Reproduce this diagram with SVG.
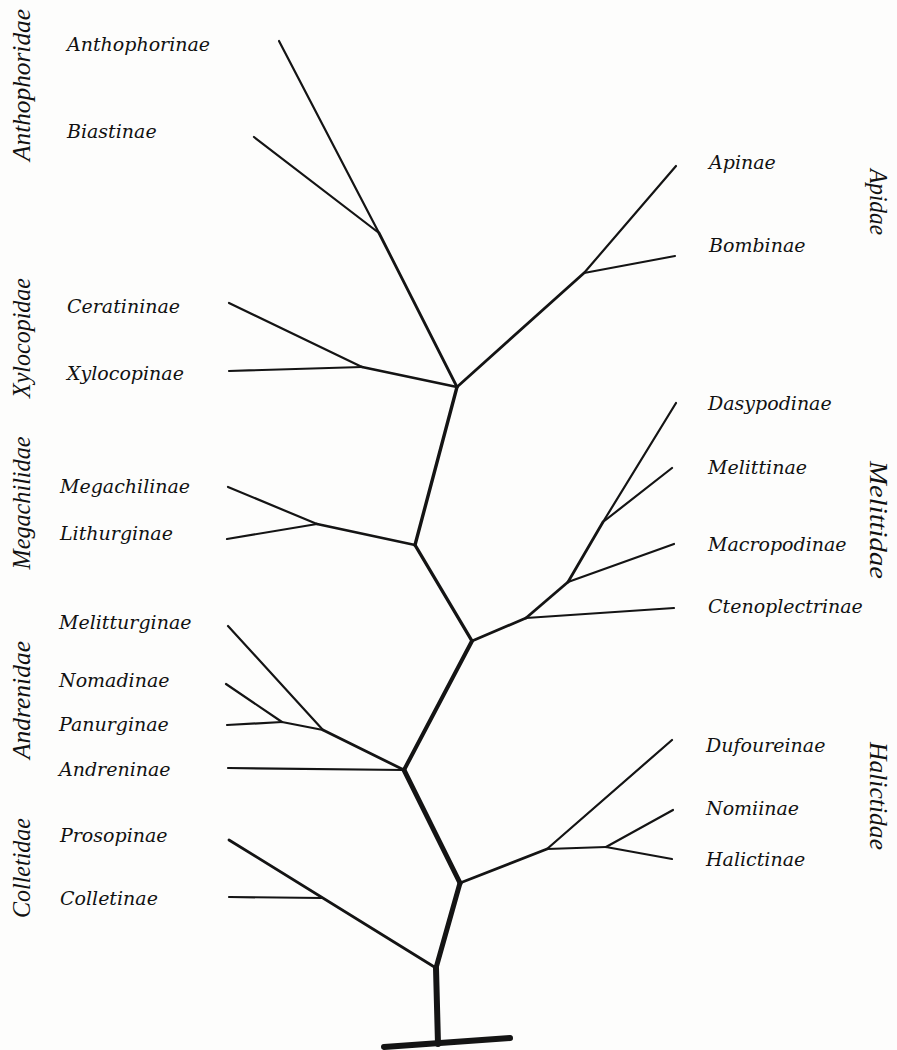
<svg xmlns="http://www.w3.org/2000/svg" width="897" height="1050" viewBox="0 0 897 1050">
<style>
.bg{fill:#fdfdfc}
.lbl{font-family:"DejaVu Serif","Liberation Serif",serif;font-style:italic;font-size:19px;fill:#111}
.fam{font-family:"Liberation Serif","DejaVu Serif",serif;font-style:italic;font-size:26px;fill:#111}
.e{stroke:#141414;stroke-linecap:round;fill:none}
.w2{stroke-width:2.2}
.w25{stroke-width:2.8}
.w3{stroke-width:3.4}
.w4{stroke-width:4}
.w5{stroke-width:5}
.w6{stroke-width:6}
</style>
<rect class="bg" x="0" y="0" width="897" height="1050"/>
<g id="connectors">
<line class="e w2" x1="279" y1="41" x2="379" y2="233"/>
<line class="e w2" x1="254" y1="137" x2="379" y2="233"/>
<line class="e w25" x1="379" y1="233" x2="457" y2="387"/>
<line class="e w2" x1="229" y1="303" x2="362" y2="367"/>
<line class="e w2" x1="229" y1="371" x2="362" y2="367"/>
<line class="e w25" x1="362" y1="367" x2="457" y2="387"/>
<line class="e w25" x1="457" y1="387" x2="584" y2="273"/>
<line class="e w2" x1="584" y1="273" x2="676" y2="166"/>
<line class="e w2" x1="584" y1="273" x2="675" y2="256"/>
<line class="e w3" x1="457" y1="387" x2="415" y2="545"/>
<line class="e w25" x1="415" y1="545" x2="317" y2="524"/>
<line class="e w2" x1="317" y1="524" x2="228" y2="487"/>
<line class="e w2" x1="317" y1="524" x2="227" y2="539"/>
<line class="e w3" x1="415" y1="545" x2="472" y2="641"/>
<line class="e w25" x1="472" y1="641" x2="526" y2="618"/>
<line class="e w2" x1="526" y1="618" x2="674" y2="608"/>
<line class="e w25" x1="526" y1="618" x2="568" y2="582"/>
<line class="e w2" x1="568" y1="582" x2="674" y2="544"/>
<line class="e w25" x1="568" y1="582" x2="603" y2="522"/>
<line class="e w2" x1="603" y1="522" x2="676" y2="403"/>
<line class="e w2" x1="603" y1="522" x2="672" y2="468"/>
<line class="e w4" x1="472" y1="641" x2="404" y2="770"/>
<line class="e w2" x1="404" y1="770" x2="228" y2="768"/>
<line class="e w25" x1="404" y1="770" x2="323" y2="730"/>
<line class="e w2" x1="323" y1="730" x2="228" y2="626"/>
<line class="e w2" x1="323" y1="730" x2="282" y2="722"/>
<line class="e w2" x1="282" y1="722" x2="226" y2="684"/>
<line class="e w2" x1="282" y1="722" x2="227" y2="725"/>
<line class="e w5" x1="404" y1="770" x2="460" y2="883"/>
<line class="e w25" x1="460" y1="883" x2="547" y2="849"/>
<line class="e w2" x1="547" y1="849" x2="672" y2="740"/>
<line class="e w2" x1="547" y1="849" x2="606" y2="847"/>
<line class="e w2" x1="606" y1="847" x2="673" y2="810"/>
<line class="e w2" x1="606" y1="847" x2="672" y2="859"/>
<line class="e w5" x1="460" y1="883" x2="436" y2="968"/>
<line class="e w25" x1="436" y1="968" x2="229" y2="840"/>
<line class="e w2" x1="322" y1="898" x2="229" y2="897"/>
<line class="e w6" x1="436" y1="968" x2="438" y2="1044"/>
<line class="e w6" x1="384" y1="1047" x2="510" y2="1038"/>
</g>
<g id="n-anthophorinae"><text class="lbl" x="67" y="51">Anthophorinae</text></g>
<g id="n-biastinae"><text class="lbl" x="67" y="138">Biastinae</text></g>
<g id="n-ceratininae"><text class="lbl" x="67" y="313">Ceratininae</text></g>
<g id="n-xylocopinae"><text class="lbl" x="67" y="380">Xylocopinae</text></g>
<g id="n-megachilinae"><text class="lbl" x="60" y="493">Megachilinae</text></g>
<g id="n-lithurginae"><text class="lbl" x="60" y="540">Lithurginae</text></g>
<g id="n-melitturginae"><text class="lbl" x="59" y="629">Melitturginae</text></g>
<g id="n-nomadinae"><text class="lbl" x="59" y="687">Nomadinae</text></g>
<g id="n-panurginae"><text class="lbl" x="59" y="731">Panurginae</text></g>
<g id="n-andreninae"><text class="lbl" x="59" y="776">Andreninae</text></g>
<g id="n-prosopinae"><text class="lbl" x="60" y="842">Prosopinae</text></g>
<g id="n-colletinae"><text class="lbl" x="60" y="905">Colletinae</text></g>
<g id="n-apinae"><text class="lbl" x="709" y="169">Apinae</text></g>
<g id="n-bombinae"><text class="lbl" x="709" y="252">Bombinae</text></g>
<g id="n-dasypodinae"><text class="lbl" x="708" y="410">Dasypodinae</text></g>
<g id="n-melittinae"><text class="lbl" x="708" y="474">Melittinae</text></g>
<g id="n-macropodinae"><text class="lbl" x="708" y="551">Macropodinae</text></g>
<g id="n-ctenoplectrinae"><text class="lbl" x="708" y="613">Ctenoplectrinae</text></g>
<g id="n-dufoureinae"><text class="lbl" x="706" y="752">Dufoureinae</text></g>
<g id="n-nomiinae"><text class="lbl" x="706" y="815">Nomiinae</text></g>
<g id="n-halictinae"><text class="lbl" x="706" y="866">Halictinae</text></g>
<g id="f-anthophoridae"><text class="fam" text-anchor="middle" transform="translate(30,85) rotate(-90)" textLength="152" lengthAdjust="spacingAndGlyphs">Anthophoridae</text></g>
<g id="f-xylocopidae"><text class="fam" text-anchor="middle" transform="translate(30,338) rotate(-90)" textLength="120" lengthAdjust="spacingAndGlyphs">Xylocopidae</text></g>
<g id="f-megachilidae"><text class="fam" text-anchor="middle" transform="translate(30,503) rotate(-90)" textLength="133" lengthAdjust="spacingAndGlyphs">Megachilidae</text></g>
<g id="f-andrenidae"><text class="fam" text-anchor="middle" transform="translate(30,700) rotate(-90)" textLength="118" lengthAdjust="spacingAndGlyphs">Andrenidae</text></g>
<g id="f-colletidae"><text class="fam" text-anchor="middle" transform="translate(30,868) rotate(-90)" textLength="100" lengthAdjust="spacingAndGlyphs">Colletidae</text></g>
<g id="f-apidae"><text class="fam" text-anchor="middle" transform="translate(870,202) rotate(90)" textLength="66" lengthAdjust="spacingAndGlyphs">Apidae</text></g>
<g id="f-melittidae"><text class="fam" text-anchor="middle" transform="translate(870,520) rotate(90)" textLength="118" lengthAdjust="spacingAndGlyphs">Melittidae</text></g>
<g id="f-halictidae"><text class="fam" text-anchor="middle" transform="translate(870,796) rotate(90)" textLength="108" lengthAdjust="spacingAndGlyphs">Halictidae</text></g>
</svg>
